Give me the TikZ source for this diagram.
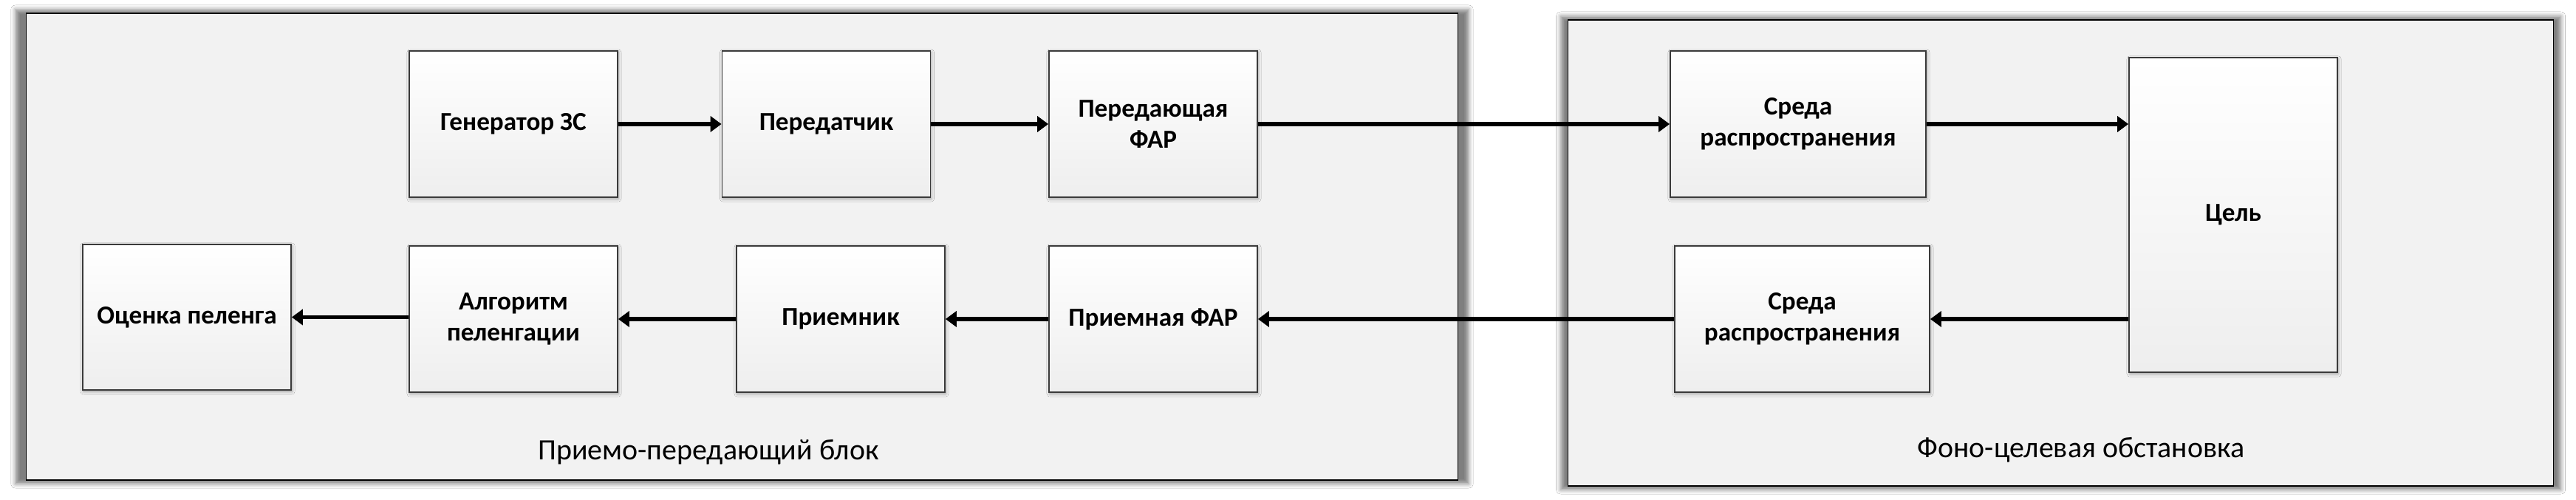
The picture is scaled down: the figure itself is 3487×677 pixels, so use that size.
\documentclass[tikz,border=0pt]{standalone}
\usepackage{fontspec}
\setmainfont{Carlito}
\usetikzlibrary{arrows.meta,shadows.blur}
\definecolor{contfill}{HTML}{F2F2F2}
\definecolor{boxbot}{HTML}{EEEEEE}
\definecolor{boxline}{HTML}{3A3A3A}
\tikzset{
  container/.style={draw=black, line width=0.45pt, fill=contfill, inner sep=0pt,
    blur shadow={shadow xshift=0pt, shadow yshift=0pt, shadow scale=1.015,
      shadow blur radius=0.06cm, shadow opacity=50}},
  block/.style={draw=boxline, line width=0.45pt, top color=white, bottom color=boxbot,
    inner sep=0pt, minimum width=2.82cm, minimum height=1.98cm, align=center,
    font=\fontsize{10pt}{12pt}\selectfont\bfseries,
    blur shadow={shadow xshift=0.01cm, shadow yshift=-0.02cm,
      shadow blur radius=0.04cm, shadow opacity=35}},
  conn/.style={line width=0.055cm, -{Triangle[length=0.15cm,width=0.21cm]}},
  caption/.style={font=\fontsize{11.35pt}{14pt}\selectfont, anchor=base, inner sep=0pt}
}
\begin{document}
\begin{tikzpicture}[x=0.01cm,y=-0.01cm]
\fill[white] (0,0) rectangle (3487,677);
\useasboundingbox (0,0) rectangle (3487,677);
% containers
\node[container, minimum width=19.37cm, minimum height=6.32cm] (c1) at (1004.5,334) {};
\node[container, minimum width=13.33cm, minimum height=6.31cm] (c2) at (2789.5,342.5) {};
% top row
\node[block] (gen) at (695,168) {Генератор ЗС};
\node[block] (per) at (1118.5,168) {Передатчик};
\node[block] (pfar) at (1561,168) {Передающая\\ФАР};
% bottom row
\node[block, minimum height=1.97cm] (ots) at (253,429.5) {Оценка пеленга};
\node[block] (alg) at (695,432) {Алгоритм\\пеленгации};
\node[block] (prm) at (1138,432) {Приемник};
\node[block] (prfar) at (1561,432) {Приемная ФАР};
% environment
\node[block, minimum width=3.46cm] (sr1) at (2434,168) {Среда\\распространения};
\node[block, minimum width=3.45cm] (sr2) at (2439.5,432) {Среда\\распространения};
\node[block, minimum height=4.26cm] (tsel) at (3023,291) {Цель};
% captions
\node[caption] (l1) at (959,623) {Приемо-передающий блок};
\node[caption] (l2) at (2817,620) {Фоно-целевая обстановка};
% connectors
\draw[conn] (gen) -- (per);
\draw[conn] (per) -- (pfar);
\draw[conn] (pfar) -- (sr1);
\draw[conn] (sr1.east) -- (sr1.east -| tsel.west);
\draw[conn] (tsel.west |- sr2) -- (sr2.east);
\draw[conn] (sr2) -- (prfar);
\draw[conn] (prfar) -- (prm);
\draw[conn] (prm) -- (alg);
\draw[conn] (alg.west |- ots) -- (ots.east);
\end{tikzpicture}
\end{document}
